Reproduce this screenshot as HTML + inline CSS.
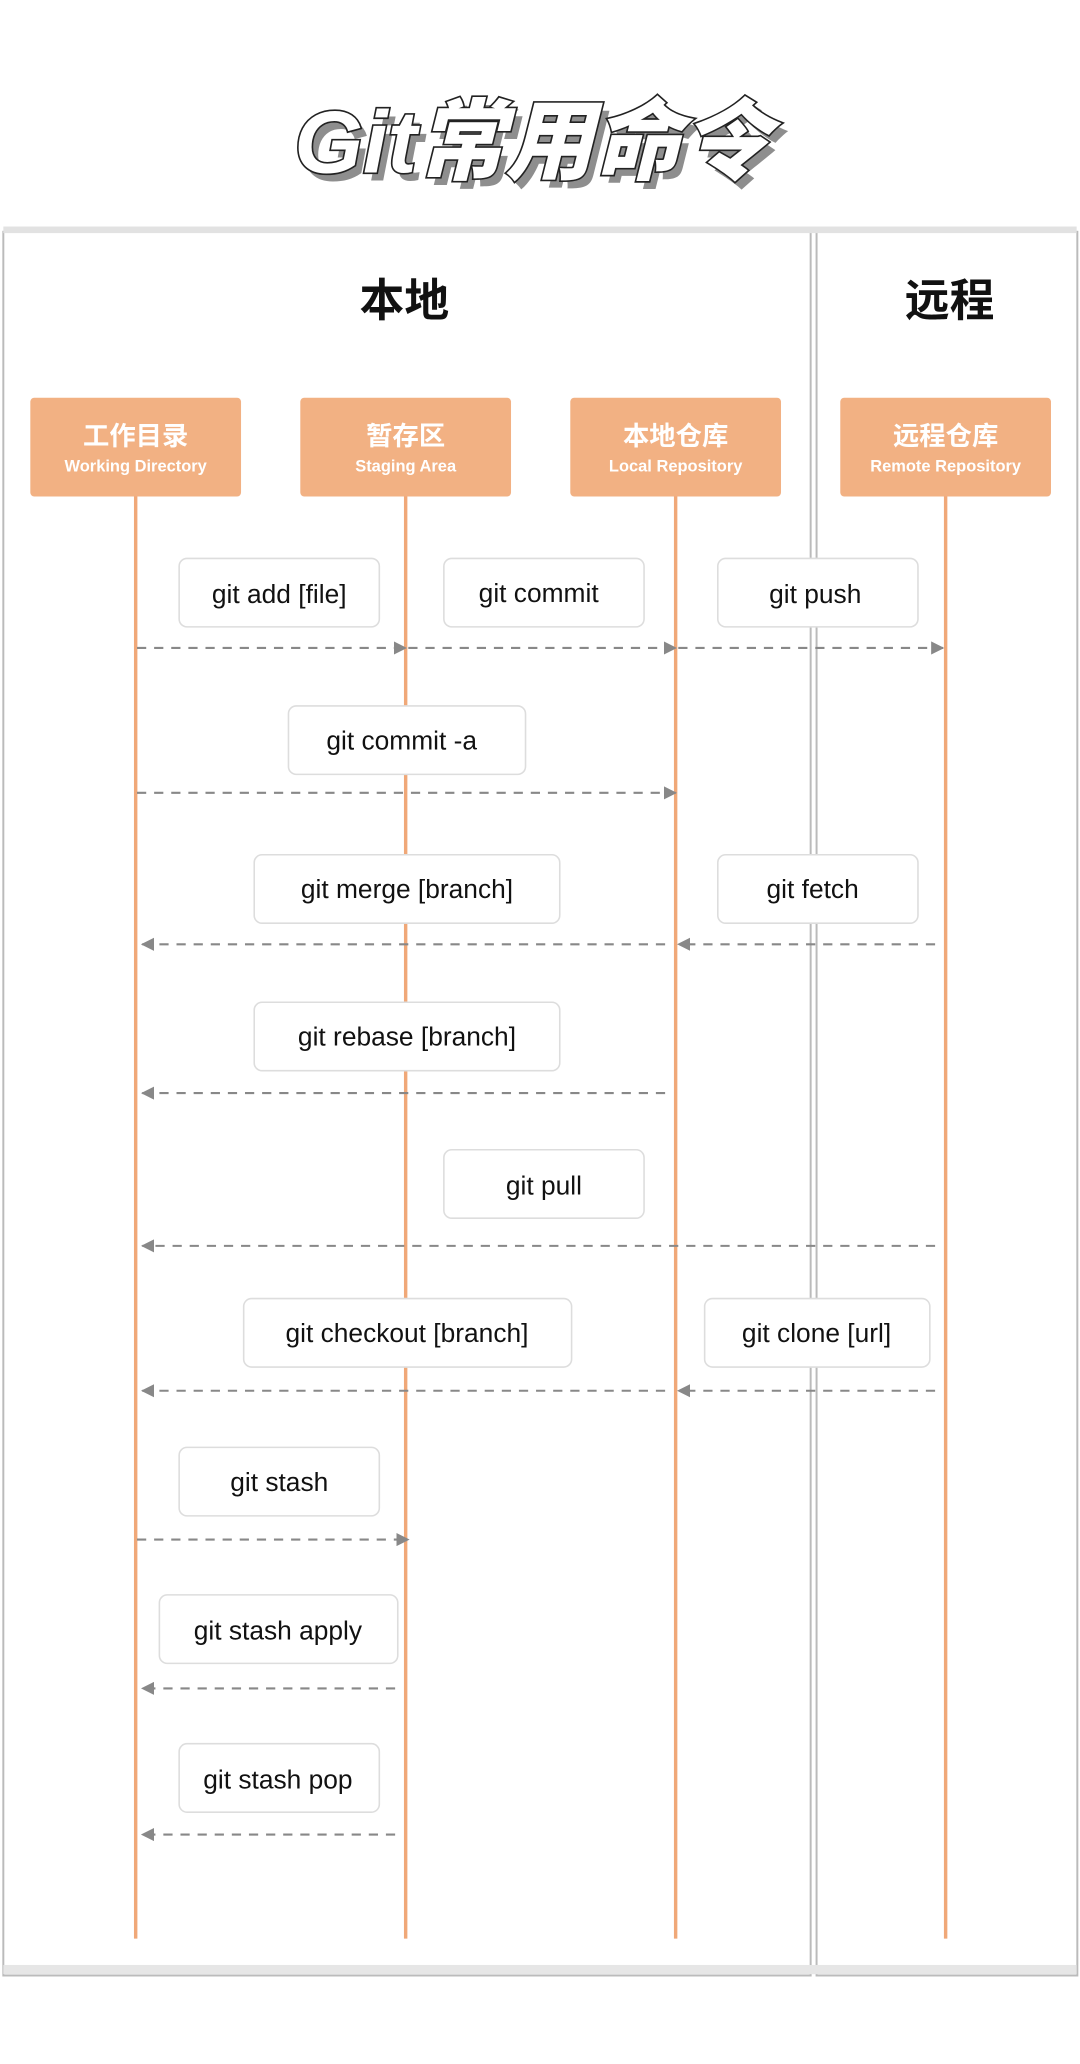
<!DOCTYPE html>
<html><head><meta charset="utf-8"><style>
html,body{margin:0;padding:0;background:#fff;width:1080px;height:2064px;overflow:hidden}
svg{display:block}
.lb{fill:#fff;stroke:#ddd;stroke-width:1.2}
.lt{font-family:"Liberation Sans","Noto Sans CJK SC",sans-serif;font-size:20px;fill:#111;text-anchor:middle}
.ar{stroke:#888;stroke-width:1.6;stroke-dasharray:7 6;fill:none}
.ll{stroke:#F0A878;stroke-width:2.6}
.hb{fill:#F2B183}
.hc{font-family:"Liberation Sans","Noto Sans CJK SC",sans-serif;font-weight:bold;font-size:20px;fill:#fff;text-anchor:middle}
.he{font-family:"Liberation Sans",sans-serif;font-weight:bold;font-size:12.5px;fill:#fff;text-anchor:middle}
</style></head><body>
<svg width="1080" height="2064" viewBox="0 0 820 1567.2" xmlns="http://www.w3.org/2000/svg">
<defs>
<marker id="m" markerWidth="10" markerHeight="10" refX="9" refY="5" orient="auto" markerUnits="userSpaceOnUse"><path d="M0,0 L10,5 L0,10 z" fill="#888"/></marker>
</defs>
<text x="404" y="131" font-family="Liberation Sans,Noto Sans CJK SC,sans-serif" font-weight="900" font-style="italic" font-size="67" text-anchor="middle" fill="#333" opacity="0.55" transform="translate(5,6)">Git常用命令</text>
<text x="404" y="131" font-family="Liberation Sans,Noto Sans CJK SC,sans-serif" font-weight="900" font-style="italic" font-size="67" text-anchor="middle" fill="#fff" stroke="#222" stroke-width="2.5" paint-order="stroke">Git常用命令</text>
<rect x="2.5" y="176" width="613" height="1324" fill="#fff" stroke="#bbb" stroke-width="1.5"/>
<rect x="620" y="176" width="198" height="1324" fill="#fff" stroke="#bbb" stroke-width="1.5"/>
<rect x="2.5" y="172" width="815" height="5" fill="#e2e2e2"/>
<rect x="2.5" y="1492" width="815" height="7" fill="#e6e6e6"/>
<text x="307" y="240" font-family="Liberation Sans,Noto Sans CJK SC,sans-serif" font-weight="bold" font-size="34" text-anchor="middle" fill="#111">本地</text>
<text x="721" y="240" font-family="Liberation Sans,Noto Sans CJK SC,sans-serif" font-weight="bold" font-size="34" text-anchor="middle" fill="#111">远程</text>
<line class="ll" x1="103" y1="376" x2="103" y2="1472"/>
<line class="ll" x1="308" y1="376" x2="308" y2="1472"/>
<line class="ll" x1="513" y1="376" x2="513" y2="1472"/>
<line class="ll" x1="718" y1="376" x2="718" y2="1472"/>
<rect class="hb" x="23" y="302" width="160" height="75" rx="3"/>
<text class="hc" x="103" y="338">工作目录</text><text class="he" x="103" y="358">Working Directory</text>
<rect class="hb" x="228" y="302" width="160" height="75" rx="3"/>
<text class="hc" x="308" y="338">暂存区</text><text class="he" x="308" y="358">Staging Area</text>
<rect class="hb" x="433" y="302" width="160" height="75" rx="3"/>
<text class="hc" x="513" y="338">本地仓库</text><text class="he" x="513" y="358">Local Repository</text>
<rect class="hb" x="638" y="302" width="160" height="75" rx="3"/>
<text class="hc" x="718" y="338">远程仓库</text><text class="he" x="718" y="358">Remote Repository</text>
<rect class="lb" x="136" y="424" width="152" height="52" rx="6"/><text class="lt" x="212" y="458">git add [file]</text>
<rect class="lb" x="337" y="424" width="152" height="52" rx="6"/><text class="lt" x="409" y="457">git commit</text>
<rect class="lb" x="545" y="424" width="152" height="52" rx="6"/><text class="lt" x="619" y="458">git push</text>
<line class="ar" x1="104" y1="492" x2="308" y2="492" marker-end="url(#m)"/>
<line class="ar" x1="310" y1="492" x2="513" y2="492" marker-end="url(#m)"/>
<line class="ar" x1="515" y1="492" x2="716" y2="492" marker-end="url(#m)"/>
<rect class="lb" x="219" y="536" width="180" height="52" rx="6"/><text class="lt" x="305" y="569">git commit -a</text>
<line class="ar" x1="104" y1="602" x2="513" y2="602" marker-end="url(#m)"/>
<rect class="lb" x="193" y="649" width="232" height="52" rx="6"/><text class="lt" x="309" y="682">git merge [branch]</text>
<rect class="lb" x="545" y="649" width="152" height="52" rx="6"/><text class="lt" x="617" y="682">git fetch</text>
<line class="ar" x1="710" y1="717" x2="515" y2="717" marker-end="url(#m)"/>
<line class="ar" x1="505" y1="717" x2="108" y2="717" marker-end="url(#m)"/>
<rect class="lb" x="193" y="761" width="232" height="52" rx="6"/><text class="lt" x="309" y="794">git rebase [branch]</text>
<line class="ar" x1="505" y1="830" x2="108" y2="830" marker-end="url(#m)"/>
<rect class="lb" x="337" y="873" width="152" height="52" rx="6"/><text class="lt" x="413" y="907">git pull</text>
<line class="ar" x1="710" y1="946" x2="108" y2="946" marker-end="url(#m)"/>
<rect class="lb" x="185" y="986" width="249" height="52" rx="6"/><text class="lt" x="309" y="1019">git checkout [branch]</text>
<rect class="lb" x="535" y="986" width="171" height="52" rx="6"/><text class="lt" x="620" y="1019">git clone [url]</text>
<line class="ar" x1="710" y1="1056" x2="515" y2="1056" marker-end="url(#m)"/>
<line class="ar" x1="505" y1="1056" x2="108" y2="1056" marker-end="url(#m)"/>
<rect class="lb" x="136" y="1099" width="152" height="52" rx="6"/><text class="lt" x="212" y="1132">git stash</text>
<line class="ar" x1="104" y1="1169" x2="310" y2="1169" marker-end="url(#m)"/>
<rect class="lb" x="121" y="1211" width="181" height="52" rx="6"/><text class="lt" x="211" y="1245">git stash apply</text>
<line class="ar" x1="300" y1="1282" x2="108" y2="1282" marker-end="url(#m)"/>
<rect class="lb" x="136" y="1324" width="152" height="52" rx="6"/><text class="lt" x="211" y="1358">git stash pop</text>
<line class="ar" x1="300" y1="1393" x2="108" y2="1393" marker-end="url(#m)"/>
</svg>
</body></html>
